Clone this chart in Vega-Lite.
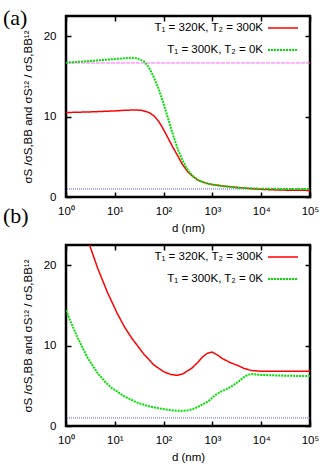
{
  "$schema": "https://vega.github.io/schema/vega-lite/v6.json",
  "padding": {"left": 1, "top": 5, "right": 0, "bottom": 0},
  "spacing": 48,
  "bounds": "flush",
  "datasets": {
    "a": [
      {"s": "T₁ = 320K, T₂ = 300K", "d": 1, "v": 10.5},
      {"s": "T₁ = 320K, T₂ = 300K", "d": 3.162, "v": 10.58},
      {"s": "T₁ = 320K, T₂ = 300K", "d": 10, "v": 10.7},
      {"s": "T₁ = 320K, T₂ = 300K", "d": 15.85, "v": 10.78},
      {"s": "T₁ = 320K, T₂ = 300K", "d": 25.12, "v": 10.82},
      {"s": "T₁ = 320K, T₂ = 300K", "d": 35.48, "v": 10.78},
      {"s": "T₁ = 320K, T₂ = 300K", "d": 50.12, "v": 10.5},
      {"s": "T₁ = 320K, T₂ = 300K", "d": 63.1, "v": 10.1},
      {"s": "T₁ = 320K, T₂ = 300K", "d": 79.43, "v": 9.4},
      {"s": "T₁ = 320K, T₂ = 300K", "d": 93.33, "v": 8.7},
      {"s": "T₁ = 320K, T₂ = 300K", "d": 112.2, "v": 7.8},
      {"s": "T₁ = 320K, T₂ = 300K", "d": 151.4, "v": 6.3},
      {"s": "T₁ = 320K, T₂ = 300K", "d": 199.5, "v": 5.0},
      {"s": "T₁ = 320K, T₂ = 300K", "d": 239.9, "v": 4.1},
      {"s": "T₁ = 320K, T₂ = 300K", "d": 316.2, "v": 3.1},
      {"s": "T₁ = 320K, T₂ = 300K", "d": 380.2, "v": 2.65},
      {"s": "T₁ = 320K, T₂ = 300K", "d": 501.2, "v": 2.1},
      {"s": "T₁ = 320K, T₂ = 300K", "d": 631, "v": 1.85},
      {"s": "T₁ = 320K, T₂ = 300K", "d": 831.8, "v": 1.65},
      {"s": "T₁ = 320K, T₂ = 300K", "d": 1000, "v": 1.55},
      {"s": "T₁ = 320K, T₂ = 300K", "d": 1585, "v": 1.38},
      {"s": "T₁ = 320K, T₂ = 300K", "d": 3162, "v": 1.2},
      {"s": "T₁ = 320K, T₂ = 300K", "d": 5623, "v": 1.05},
      {"s": "T₁ = 320K, T₂ = 300K", "d": 10000, "v": 0.95},
      {"s": "T₁ = 320K, T₂ = 300K", "d": 19950, "v": 0.88},
      {"s": "T₁ = 320K, T₂ = 300K", "d": 39810, "v": 0.84},
      {"s": "T₁ = 320K, T₂ = 300K", "d": 100000, "v": 0.82},
      {"s": "T₁ = 300K, T₂ = 0K", "d": 1, "v": 16.7},
      {"s": "T₁ = 300K, T₂ = 0K", "d": 3.162, "v": 16.9},
      {"s": "T₁ = 300K, T₂ = 0K", "d": 10, "v": 17.15},
      {"s": "T₁ = 300K, T₂ = 0K", "d": 19.95, "v": 17.3},
      {"s": "T₁ = 300K, T₂ = 0K", "d": 28.18, "v": 17.25},
      {"s": "T₁ = 300K, T₂ = 0K", "d": 39.81, "v": 16.85},
      {"s": "T₁ = 300K, T₂ = 0K", "d": 50.12, "v": 16.1},
      {"s": "T₁ = 300K, T₂ = 0K", "d": 63.1, "v": 14.9},
      {"s": "T₁ = 300K, T₂ = 0K", "d": 79.43, "v": 13.4},
      {"s": "T₁ = 300K, T₂ = 0K", "d": 100, "v": 11.6},
      {"s": "T₁ = 300K, T₂ = 0K", "d": 125.9, "v": 9.6},
      {"s": "T₁ = 300K, T₂ = 0K", "d": 158.5, "v": 7.6},
      {"s": "T₁ = 300K, T₂ = 0K", "d": 199.5, "v": 5.8},
      {"s": "T₁ = 300K, T₂ = 0K", "d": 251.2, "v": 4.4},
      {"s": "T₁ = 300K, T₂ = 0K", "d": 316.2, "v": 3.3},
      {"s": "T₁ = 300K, T₂ = 0K", "d": 398.1, "v": 2.6},
      {"s": "T₁ = 300K, T₂ = 0K", "d": 501.2, "v": 2.15},
      {"s": "T₁ = 300K, T₂ = 0K", "d": 631, "v": 1.85},
      {"s": "T₁ = 300K, T₂ = 0K", "d": 794.3, "v": 1.67},
      {"s": "T₁ = 300K, T₂ = 0K", "d": 1000, "v": 1.55},
      {"s": "T₁ = 300K, T₂ = 0K", "d": 1585, "v": 1.35},
      {"s": "T₁ = 300K, T₂ = 0K", "d": 3162, "v": 1.15},
      {"s": "T₁ = 300K, T₂ = 0K", "d": 10000, "v": 1.03},
      {"s": "T₁ = 300K, T₂ = 0K", "d": 31620, "v": 1.0},
      {"s": "T₁ = 300K, T₂ = 0K", "d": 100000, "v": 1.0}
    ],
    "b": [
      {"s": "T₁ = 320K, T₂ = 300K", "d": 1.995, "v": 26.5},
      {"s": "T₁ = 320K, T₂ = 300K", "d": 2.512, "v": 24.3},
      {"s": "T₁ = 320K, T₂ = 300K", "d": 3.162, "v": 22.2},
      {"s": "T₁ = 320K, T₂ = 300K", "d": 4.467, "v": 19.6},
      {"s": "T₁ = 320K, T₂ = 300K", "d": 7.079, "v": 16.6},
      {"s": "T₁ = 320K, T₂ = 300K", "d": 11.22, "v": 14.0},
      {"s": "T₁ = 320K, T₂ = 300K", "d": 15.85, "v": 12.3},
      {"s": "T₁ = 320K, T₂ = 300K", "d": 22.39, "v": 10.9},
      {"s": "T₁ = 320K, T₂ = 300K", "d": 31.62, "v": 9.7},
      {"s": "T₁ = 320K, T₂ = 300K", "d": 39.81, "v": 8.9},
      {"s": "T₁ = 320K, T₂ = 300K", "d": 63.1, "v": 7.6},
      {"s": "T₁ = 320K, T₂ = 300K", "d": 100, "v": 6.75},
      {"s": "T₁ = 320K, T₂ = 300K", "d": 141.3, "v": 6.4},
      {"s": "T₁ = 320K, T₂ = 300K", "d": 186.2, "v": 6.3},
      {"s": "T₁ = 320K, T₂ = 300K", "d": 251.2, "v": 6.5},
      {"s": "T₁ = 320K, T₂ = 300K", "d": 380.2, "v": 7.2},
      {"s": "T₁ = 320K, T₂ = 300K", "d": 501.2, "v": 7.9},
      {"s": "T₁ = 320K, T₂ = 300K", "d": 631, "v": 8.6},
      {"s": "T₁ = 320K, T₂ = 300K", "d": 794.3, "v": 9.05},
      {"s": "T₁ = 320K, T₂ = 300K", "d": 977.2, "v": 9.2},
      {"s": "T₁ = 320K, T₂ = 300K", "d": 1259, "v": 8.85},
      {"s": "T₁ = 320K, T₂ = 300K", "d": 1585, "v": 8.4},
      {"s": "T₁ = 320K, T₂ = 300K", "d": 2291, "v": 7.9},
      {"s": "T₁ = 320K, T₂ = 300K", "d": 3388, "v": 7.5},
      {"s": "T₁ = 320K, T₂ = 300K", "d": 4467, "v": 7.15},
      {"s": "T₁ = 320K, T₂ = 300K", "d": 6310, "v": 6.9},
      {"s": "T₁ = 320K, T₂ = 300K", "d": 10000, "v": 6.8},
      {"s": "T₁ = 320K, T₂ = 300K", "d": 31620, "v": 6.8},
      {"s": "T₁ = 320K, T₂ = 300K", "d": 100000, "v": 6.8},
      {"s": "T₁ = 300K, T₂ = 0K", "d": 1, "v": 14.4},
      {"s": "T₁ = 300K, T₂ = 0K", "d": 1.259, "v": 12.9},
      {"s": "T₁ = 300K, T₂ = 0K", "d": 1.738, "v": 10.95},
      {"s": "T₁ = 300K, T₂ = 0K", "d": 2.754, "v": 8.5},
      {"s": "T₁ = 300K, T₂ = 0K", "d": 4.416, "v": 6.6},
      {"s": "T₁ = 300K, T₂ = 0K", "d": 6.31, "v": 5.5},
      {"s": "T₁ = 300K, T₂ = 0K", "d": 8.318, "v": 4.8},
      {"s": "T₁ = 300K, T₂ = 0K", "d": 15.49, "v": 3.7},
      {"s": "T₁ = 300K, T₂ = 0K", "d": 28.84, "v": 2.9},
      {"s": "T₁ = 300K, T₂ = 0K", "d": 53.7, "v": 2.4},
      {"s": "T₁ = 300K, T₂ = 0K", "d": 100, "v": 2.1},
      {"s": "T₁ = 300K, T₂ = 0K", "d": 158.5, "v": 1.92},
      {"s": "T₁ = 300K, T₂ = 0K", "d": 223.9, "v": 1.88},
      {"s": "T₁ = 300K, T₂ = 0K", "d": 316.2, "v": 1.95},
      {"s": "T₁ = 300K, T₂ = 0K", "d": 398.1, "v": 2.1},
      {"s": "T₁ = 300K, T₂ = 0K", "d": 512.9, "v": 2.4},
      {"s": "T₁ = 300K, T₂ = 0K", "d": 660.7, "v": 2.75},
      {"s": "T₁ = 300K, T₂ = 0K", "d": 831.8, "v": 3.1},
      {"s": "T₁ = 300K, T₂ = 0K", "d": 1122, "v": 3.8},
      {"s": "T₁ = 300K, T₂ = 0K", "d": 1413, "v": 4.2},
      {"s": "T₁ = 300K, T₂ = 0K", "d": 1820, "v": 4.5},
      {"s": "T₁ = 300K, T₂ = 0K", "d": 2291, "v": 4.8},
      {"s": "T₁ = 300K, T₂ = 0K", "d": 2884, "v": 5.2},
      {"s": "T₁ = 300K, T₂ = 0K", "d": 3548, "v": 5.6},
      {"s": "T₁ = 300K, T₂ = 0K", "d": 4266, "v": 6.0},
      {"s": "T₁ = 300K, T₂ = 0K", "d": 5248, "v": 6.35},
      {"s": "T₁ = 300K, T₂ = 0K", "d": 6310, "v": 6.45},
      {"s": "T₁ = 300K, T₂ = 0K", "d": 10000, "v": 6.35},
      {"s": "T₁ = 300K, T₂ = 0K", "d": 31620, "v": 6.25},
      {"s": "T₁ = 300K, T₂ = 0K", "d": 100000, "v": 6.2}
    ],
    "mag": [{"level": 16.66}],
    "one": [{"level": 1}]
  },
  "vconcat": [
    {
      "width": 244,
      "height": 181,
      "title": {"text": "(a)", "anchor": "start", "frame": "group", "dx": -63, "dy": 22, "fontSize": 22, "font": "Liberation Serif", "fontWeight": "normal", "color": "black"},
      "layer": [
        {"data": {"name": "mag"}, "mark": {"type": "rule", "color": "#ff66ff", "strokeWidth": 1, "strokeDash": [4, 1]}, "encoding": {"y": {"field": "level", "type": "quantitative", "scale": {"domain": [0, 22.5], "nice": false}, "axis": null}}},
        {"data": {"name": "one"}, "mark": {"type": "rule", "color": "#5555ff", "strokeWidth": 1, "strokeDash": [1, 1]}, "encoding": {"y": {"field": "level", "type": "quantitative", "scale": {"domain": [0, 22.5], "nice": false}, "axis": null}}},
        {
          "data": {"name": "a"},
          "mark": {"type": "line", "clip": true},
          "encoding": {
            "x": {"field": "d", "type": "quantitative", "scale": {"type": "log", "domain": [1, 100000]}, "axis": {"values": [1, 10, 100, 1000, 10000, 100000], "labelExpr": "'10' + ['⁰','¹','²','³','⁴','⁵'][round(log(datum.value)/LN10)]", "labelFlush": false, "labelOverlap": false, "labelPadding": 13, "title": "d (nm)", "titlePadding": 6}},
            "y": {"field": "v", "type": "quantitative", "scale": {"domain": [0, 22.5], "nice": false}, "axis": {"values": [0, 10, 20], "labelPadding": 15, "title": "σS /σS,BB and σS¹² / σS,BB¹²", "titlePadding": 10}},
            "color": {"field": "s", "type": "nominal", "scale": {"domain": ["T₁ = 320K, T₂ = 300K", "T₁ = 300K, T₂ = 0K"], "range": ["#ff0000", "#00e000"]}, "legend": {"title": null}},
            "strokeDash": {"field": "s", "type": "nominal", "scale": {"domain": ["T₁ = 320K, T₂ = 300K", "T₁ = 300K, T₂ = 0K"], "range": [[1, 0], [2, 1]]}, "legend": {"title": null}},
            "strokeWidth": {"field": "s", "type": "nominal", "scale": {"domain": ["T₁ = 320K, T₂ = 300K", "T₁ = 300K, T₂ = 0K"], "range": [1.5, 2]}, "legend": null}
          }
        },
        {
          "data": {"name": "a"},
          "mark": {"type": "point", "opacity": 0},
          "encoding": {
            "x": {"field": "d", "type": "quantitative", "scale": {"type": "log", "domain": [1, 100000]}, "axis": {"orient": "top", "values": [1, 10, 100, 1000, 10000, 100000], "labels": false, "title": null}},
            "y": {"field": "v", "type": "quantitative", "scale": {"domain": [0, 22.5], "nice": false}, "axis": {"orient": "right", "values": [0, 10, 20], "labels": false, "title": null}}
          }
        }
      ],
      "resolve": {"axis": {"x": "independent", "y": "independent"}}
    },
    {
      "width": 244,
      "height": 181,
      "title": {"text": "(b)", "anchor": "start", "frame": "group", "dx": -63, "dy": 22, "fontSize": 22, "font": "Liberation Serif", "fontWeight": "normal", "color": "black"},
      "layer": [
        {"data": {"name": "one"}, "mark": {"type": "rule", "color": "#5555ff", "strokeWidth": 1, "strokeDash": [1, 1]}, "encoding": {"y": {"field": "level", "type": "quantitative", "scale": {"domain": [0, 22.5], "nice": false}, "axis": null}}},
        {
          "data": {"name": "b"},
          "mark": {"type": "line", "clip": true},
          "encoding": {
            "x": {"field": "d", "type": "quantitative", "scale": {"type": "log", "domain": [1, 100000]}, "axis": {"values": [1, 10, 100, 1000, 10000, 100000], "labelExpr": "'10' + ['⁰','¹','²','³','⁴','⁵'][round(log(datum.value)/LN10)]", "labelFlush": false, "labelOverlap": false, "labelPadding": 13, "title": "d (nm)", "titlePadding": 6}},
            "y": {"field": "v", "type": "quantitative", "scale": {"domain": [0, 22.5], "nice": false}, "axis": {"values": [0, 10, 20], "labelPadding": 15, "title": "σS /σS,BB and σS¹² / σS,BB¹²", "titlePadding": 10}},
            "color": {"field": "s", "type": "nominal", "scale": {"domain": ["T₁ = 320K, T₂ = 300K", "T₁ = 300K, T₂ = 0K"], "range": ["#ff0000", "#00e000"]}, "legend": {"title": null}},
            "strokeDash": {"field": "s", "type": "nominal", "scale": {"domain": ["T₁ = 320K, T₂ = 300K", "T₁ = 300K, T₂ = 0K"], "range": [[1, 0], [2, 1]]}, "legend": {"title": null}},
            "strokeWidth": {"field": "s", "type": "nominal", "scale": {"domain": ["T₁ = 320K, T₂ = 300K", "T₁ = 300K, T₂ = 0K"], "range": [1.5, 2]}, "legend": null}
          }
        },
        {
          "data": {"name": "b"},
          "mark": {"type": "point", "opacity": 0},
          "encoding": {
            "x": {"field": "d", "type": "quantitative", "scale": {"type": "log", "domain": [1, 100000]}, "axis": {"orient": "top", "values": [1, 10, 100, 1000, 10000, 100000], "labels": false, "title": null}},
            "y": {"field": "v", "type": "quantitative", "scale": {"domain": [0, 22.5], "nice": false}, "axis": {"orient": "right", "values": [0, 10, 20], "labels": false, "title": null}}
          }
        }
      ],
      "resolve": {"axis": {"x": "independent", "y": "independent"}}
    }
  ],
  "resolve": {"scale": {"color": "independent", "strokeDash": "independent", "strokeWidth": "independent"}, "legend": {"color": "independent", "strokeDash": "independent"}},
  "config": {
    "background": "white",
    "font": "Liberation Sans",
    "view": {"stroke": "black", "strokeWidth": 2.5},
    "axis": {"domain": false, "grid": false, "tickColor": "black", "tickWidth": 1.5, "tickSize": -5, "labelFont": "Liberation Sans", "labelFontSize": 11.5, "labelColor": "black", "titleFont": "Liberation Sans", "titleFontSize": 11.5, "titleFontWeight": "normal", "titleColor": "black"},
    "legend": {"orient": "none", "legendX": 201, "legendY": -4, "symbolType": "stroke", "symbolSize": 900, "symbolStrokeWidth": 1.5, "labelFont": "Liberation Sans", "labelFontSize": 11.5, "labelColor": "black", "labelAlign": "right", "labelOffset": -36, "rowPadding": -12, "padding": 0}
  }
}
